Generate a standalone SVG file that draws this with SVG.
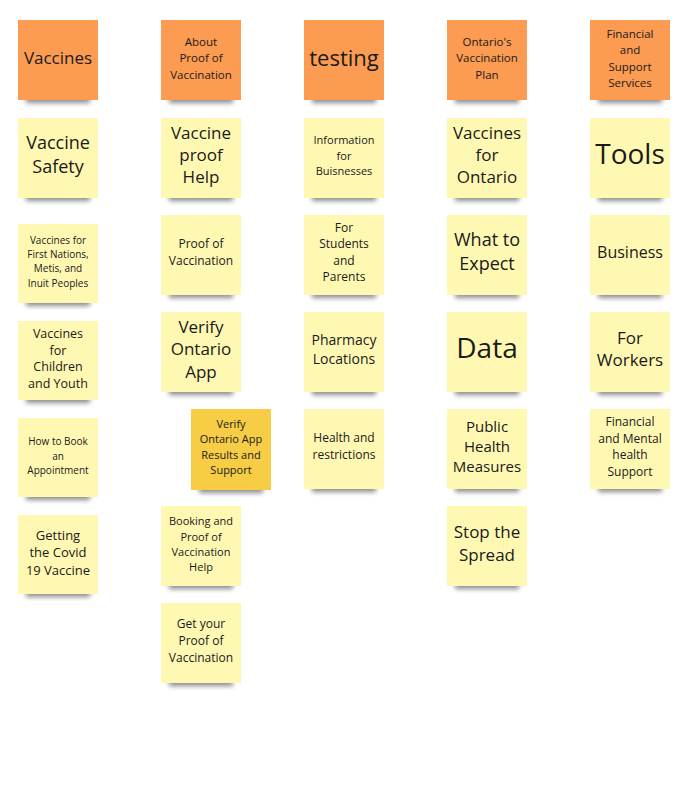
<svg xmlns="http://www.w3.org/2000/svg" width="698" height="800" viewBox="0 0 698 800">
<defs>
<filter id="sh" x="-30%" y="-100%" width="160%" height="300%"><feGaussianBlur stdDeviation="2.5"/></filter>
<style>
.s{fill:#000;opacity:0.45;filter:url(#sh)}
.o{fill:#FC9C52}
.y{fill:#FFF8B2}
.g{fill:#F6CD45}
text{font-family:"Open Sans","Noto Sans","Liberation Sans",sans-serif;fill:#1a1a1a;text-anchor:middle}
</style>
</defs>
<rect width="698" height="800" fill="#fff"/>
<g id="connectors"/>
<!-- column 1 -->
<g id="n-vaccines"><rect class="s" x="26" y="93" width="64" height="10"/><rect class="o" x="18" y="20" width="80" height="80"/><text x="58" y="64" font-size="17">Vaccines</text></g>
<g id="n-vaccine-safety"><rect class="s" x="26" y="191" width="64" height="10"/><rect class="y" x="18" y="118" width="80" height="80"/><text x="58" y="149" font-size="18">Vaccine</text><text x="58" y="173" font-size="18">Safety</text></g>
<g id="n-first-nations"><rect class="s" x="26" y="296" width="64" height="10"/><rect class="y" x="18" y="224" width="80" height="79"/><text x="58" y="244" font-size="10">Vaccines for</text><text x="58" y="258" font-size="10">First Nations,</text><text x="58" y="272" font-size="10">Metis, and</text><text x="58" y="287" font-size="10">Inuit Peoples</text></g>
<g id="n-children"><rect class="s" x="26" y="393" width="64" height="10"/><rect class="y" x="18" y="321" width="80" height="79"/><text x="58" y="338" font-size="12.5">Vaccines</text><text x="58" y="355" font-size="12.5">for</text><text x="58" y="371" font-size="12.5">Children</text><text x="58" y="388" font-size="12.5">and Youth</text></g>
<g id="n-book"><rect class="s" x="26" y="490" width="64" height="10"/><rect class="y" x="18" y="418" width="80" height="79"/><text x="58" y="445" font-size="10">How to Book</text><text x="58" y="460" font-size="10">an</text><text x="58" y="474" font-size="10">Appointment</text></g>
<g id="n-getting"><rect class="s" x="26" y="587" width="64" height="10"/><rect class="y" x="18" y="515" width="80" height="79"/><text x="58" y="540" font-size="13">Getting</text><text x="58" y="557" font-size="13">the Covid</text><text x="58" y="575" font-size="13">19 Vaccine</text></g>
<!-- column 2 -->
<g id="n-about-proof"><rect class="s" x="169" y="93" width="64" height="10"/><rect class="o" x="161" y="20" width="80" height="80"/><text x="201" y="46" font-size="11.5">About</text><text x="201" y="62" font-size="11.5">Proof of</text><text x="201" y="79" font-size="11.5">Vaccination</text></g>
<g id="n-proof-help"><rect class="s" x="169" y="191" width="64" height="10"/><rect class="y" x="161" y="118" width="80" height="80"/><text x="201" y="139" font-size="17">Vaccine</text><text x="201" y="161" font-size="17">proof</text><text x="201" y="183" font-size="17">Help</text></g>
<g id="n-proof"><rect class="s" x="169" y="288" width="64" height="10"/><rect class="y" x="161" y="215" width="80" height="80"/><text x="201" y="248" font-size="12">Proof of</text><text x="201" y="265" font-size="12">Vaccination</text></g>
<g id="n-verify"><rect class="s" x="169" y="385" width="64" height="10"/><rect class="y" x="161" y="312" width="80" height="80"/><text x="201" y="333" font-size="17">Verify</text><text x="201" y="355" font-size="17">Ontario</text><text x="201" y="378" font-size="17">App</text></g>
<g id="n-verify-support"><rect class="s" x="199" y="483" width="64" height="10"/><rect class="g" x="191" y="409" width="80" height="81"/><text x="231" y="428" font-size="11">Verify</text><text x="231" y="443" font-size="11">Ontario App</text><text x="231" y="459" font-size="11">Results and</text><text x="231" y="474" font-size="11">Support</text></g>
<g id="n-booking-help"><rect class="s" x="169" y="579" width="64" height="10"/><rect class="y" x="161" y="506" width="80" height="80"/><text x="201" y="525" font-size="11">Booking and</text><text x="201" y="541" font-size="11">Proof of</text><text x="201" y="556" font-size="11">Vaccination</text><text x="201" y="571" font-size="11">Help</text></g>
<g id="n-get-proof"><rect class="s" x="169" y="676" width="64" height="10"/><rect class="y" x="161" y="603" width="80" height="80"/><text x="201" y="628" font-size="12">Get your</text><text x="201" y="645" font-size="12">Proof of</text><text x="201" y="662" font-size="12">Vaccination</text></g>
<!-- column 3 -->
<g id="n-testing"><rect class="s" x="312" y="93" width="64" height="10"/><rect class="o" x="304" y="20" width="80" height="80"/><text x="344" y="66" font-size="22">testing</text></g>
<g id="n-businesses"><rect class="s" x="312" y="191" width="64" height="10"/><rect class="y" x="304" y="118" width="80" height="80"/><text x="344" y="144" font-size="11">Information</text><text x="344" y="160" font-size="11">for</text><text x="344" y="175" font-size="11">Buisnesses</text></g>
<g id="n-students"><rect class="s" x="312" y="288" width="64" height="10"/><rect class="y" x="304" y="215" width="80" height="80"/><text x="344" y="232" font-size="12">For</text><text x="344" y="248" font-size="12">Students</text><text x="344" y="265" font-size="12">and</text><text x="344" y="281" font-size="12">Parents</text></g>
<g id="n-pharmacy"><rect class="s" x="312" y="385" width="64" height="10"/><rect class="y" x="304" y="312" width="80" height="80"/><text x="344" y="345" font-size="14">Pharmacy</text><text x="344" y="364" font-size="14">Locations</text></g>
<g id="n-health"><rect class="s" x="312" y="482" width="64" height="10"/><rect class="y" x="304" y="409" width="80" height="80"/><text x="344" y="442" font-size="12">Health and</text><text x="344" y="459" font-size="12">restrictions</text></g>
<!-- column 4 -->
<g id="n-ontario-plan"><rect class="s" x="455" y="93" width="64" height="10"/><rect class="o" x="447" y="20" width="80" height="80"/><text x="487" y="46" font-size="11.5">Ontario's</text><text x="487" y="62" font-size="11.5">Vaccination</text><text x="487" y="79" font-size="11.5">Plan</text></g>
<g id="n-for-ontario"><rect class="s" x="455" y="191" width="64" height="10"/><rect class="y" x="447" y="118" width="80" height="80"/><text x="487" y="139" font-size="17">Vaccines</text><text x="487" y="161" font-size="17">for</text><text x="487" y="183" font-size="17">Ontario</text></g>
<g id="n-expect"><rect class="s" x="455" y="288" width="64" height="10"/><rect class="y" x="447" y="215" width="80" height="80"/><text x="487" y="246" font-size="18">What to</text><text x="487" y="270" font-size="18">Expect</text></g>
<g id="n-data"><rect class="s" x="455" y="385" width="64" height="10"/><rect class="y" x="447" y="312" width="80" height="80"/><text x="487" y="358" font-size="28">Data</text></g>
<g id="n-public-health"><rect class="s" x="455" y="482" width="64" height="10"/><rect class="y" x="447" y="409" width="80" height="80"/><text x="487" y="432" font-size="15">Public</text><text x="487" y="452" font-size="15">Health</text><text x="487" y="472" font-size="15">Measures</text></g>
<g id="n-spread"><rect class="s" x="455" y="579" width="64" height="10"/><rect class="y" x="447" y="506" width="80" height="80"/><text x="487" y="538" font-size="17">Stop the</text><text x="487" y="561" font-size="17">Spread</text></g>
<!-- column 5 -->
<g id="n-financial"><rect class="s" x="598" y="93" width="64" height="10"/><rect class="o" x="590" y="20" width="80" height="80"/><text x="630" y="38" font-size="11.5">Financial</text><text x="630" y="54" font-size="11.5">and</text><text x="630" y="71" font-size="11.5">Support</text><text x="630" y="87" font-size="11.5">Services</text></g>
<g id="n-tools"><rect class="s" x="598" y="191" width="64" height="10"/><rect class="y" x="590" y="118" width="80" height="80"/><text x="630" y="164" font-size="28">Tools</text></g>
<g id="n-business"><rect class="s" x="598" y="288" width="64" height="10"/><rect class="y" x="590" y="215" width="80" height="80"/><text x="630" y="258" font-size="16">Business</text></g>
<g id="n-workers"><rect class="s" x="598" y="385" width="64" height="10"/><rect class="y" x="590" y="312" width="80" height="80"/><text x="630" y="344" font-size="17">For</text><text x="630" y="366" font-size="17">Workers</text></g>
<g id="n-mental"><rect class="s" x="598" y="482" width="64" height="10"/><rect class="y" x="590" y="409" width="80" height="80"/><text x="630" y="426" font-size="12">Financial</text><text x="630" y="443" font-size="12">and Mental</text><text x="630" y="459" font-size="12">health</text><text x="630" y="476" font-size="12">Support</text></g>
</svg>
